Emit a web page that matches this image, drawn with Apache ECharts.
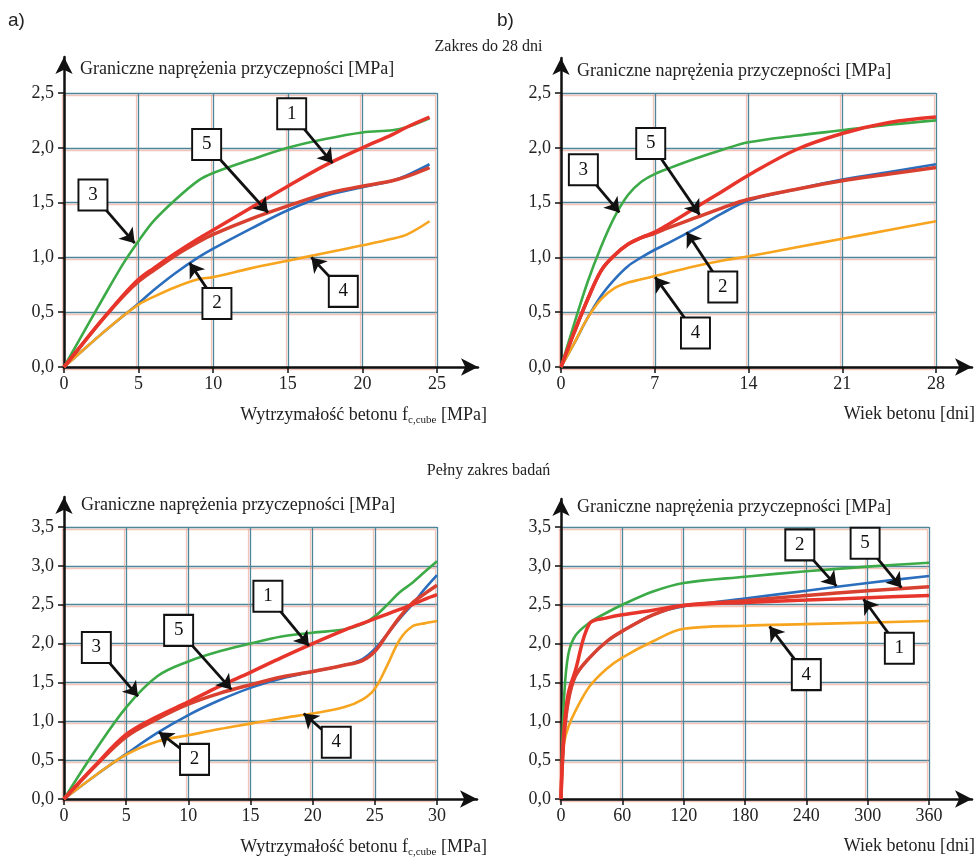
<!DOCTYPE html>
<html>
<head>
<meta charset="utf-8">
<script src="https://cdn.jsdelivr.net/npm/echarts@6/dist/echarts.min.js"></script>
<style>
  html, body { margin: 0; background: #fff; }
  #chart { width: 977px; height: 859px; }
</style>
</head>
<body>
<div id="chart"></div>
<script>
// a) zakres do 28 dni, oś x: wytrzymałość betonu f_c,cube [MPa]
const strength28X = [0, 1, 2.5, 4, 5, 6, 7.5, 9, 10, 12.5, 15, 17.5, 20, 22, 23, 24.5];
const strength28L1 = [0, 0.17, 0.42, 0.66, 0.8, 0.9, 1.04, 1.17, 1.25, 1.45, 1.65, 1.84, 2.0, 2.12, 2.19, 2.28];
const strength28L2 = [0, 0.12, 0.3, 0.47, 0.58, 0.7, 0.86, 1.0, 1.08, 1.26, 1.43, 1.56, 1.64, 1.7, 1.75, 1.85];
const strength28L3 = [0, 0.24, 0.6, 0.95, 1.15, 1.33, 1.53, 1.7, 1.77, 1.89, 2.0, 2.08, 2.14, 2.16, 2.19, 2.27];
const strength28L4 = [0, 0.12, 0.3, 0.47, 0.57, 0.64, 0.73, 0.8, 0.82, 0.9, 0.97, 1.04, 1.11, 1.17, 1.21, 1.33];
const strength28L5 = [0, 0.17, 0.42, 0.65, 0.78, 0.88, 1.02, 1.14, 1.21, 1.35, 1.47, 1.58, 1.65, 1.7, 1.74, 1.82];

// b) zakres do 28 dni, oś x: wiek betonu [dni]
const age28X = [0, 1, 2, 3, 4, 5, 6, 7, 8, 10, 12, 14, 17.5, 21, 24.5, 28];
const age28L1 = [0, 0.32, 0.62, 0.88, 1.02, 1.12, 1.18, 1.23, 1.3, 1.45, 1.6, 1.75, 1.98, 2.13, 2.23, 2.28];
const age28L2 = [0, 0.22, 0.45, 0.65, 0.8, 0.92, 1.0, 1.07, 1.13, 1.26, 1.4, 1.52, 1.62, 1.71, 1.78, 1.85];
const age28L3 = [0, 0.4, 0.78, 1.1, 1.37, 1.57, 1.69, 1.76, 1.81, 1.9, 1.98, 2.05, 2.11, 2.16, 2.21, 2.25];
const age28L4 = [0, 0.22, 0.45, 0.62, 0.72, 0.77, 0.8, 0.83, 0.86, 0.92, 0.97, 1.01, 1.09, 1.17, 1.25, 1.33];
const age28L5 = [0, 0.32, 0.62, 0.88, 1.02, 1.12, 1.18, 1.22, 1.27, 1.36, 1.45, 1.53, 1.62, 1.7, 1.76, 1.82];

// c) pełny zakres, oś x: wytrzymałość [MPa]
const strengthAllX = [0, 2.5, 5, 7.5, 10, 12.5, 15, 17.5, 20, 22.5, 24, 25, 26, 27, 28, 29, 30];
const strengthAllL1 = [0, 0.43, 0.83, 1.06, 1.25, 1.45, 1.63, 1.82, 2.0, 2.17, 2.26, 2.32, 2.38, 2.44, 2.5, 2.57, 2.63];
const strengthAllL2 = [0, 0.3, 0.58, 0.85, 1.08, 1.27, 1.43, 1.55, 1.64, 1.72, 1.8, 1.93, 2.12, 2.32, 2.5, 2.7, 2.88];
const strengthAllL3 = [0, 0.62, 1.18, 1.58, 1.77, 1.9, 2.0, 2.09, 2.14, 2.18, 2.25, 2.35, 2.5, 2.66, 2.78, 2.92, 3.06];
const strengthAllL4 = [0, 0.3, 0.57, 0.74, 0.82, 0.9, 0.97, 1.04, 1.1, 1.18, 1.28, 1.42, 1.72, 2.05, 2.22, 2.26, 2.29];
const strengthAllL5 = [0, 0.42, 0.8, 1.03, 1.22, 1.36, 1.47, 1.57, 1.64, 1.72, 1.78, 1.9, 2.12, 2.34, 2.52, 2.64, 2.75];

// d) pełny zakres, oś x: wiek betonu [dni]
const ageAllX = [0, 1, 3, 7, 14, 28, 45, 60, 90, 120, 180, 240, 300, 360];
const ageAllL1 = [0, 0.4, 0.9, 1.35, 1.65, 2.26, 2.33, 2.37, 2.43, 2.49, 2.53, 2.56, 2.59, 2.62];
const ageAllL2 = [0, 0.35, 0.8, 1.25, 1.58, 1.82, 2.03, 2.16, 2.37, 2.48, 2.58, 2.68, 2.78, 2.87];
const ageAllL3 = [0, 0.6, 1.3, 1.85, 2.1, 2.27, 2.4, 2.5, 2.67, 2.78, 2.86, 2.93, 2.99, 3.04];
const ageAllL4 = [0, 0.4, 0.72, 0.92, 1.13, 1.45, 1.68, 1.82, 2.03, 2.19, 2.23, 2.25, 2.27, 2.29];
const ageAllL5 = [0, 0.35, 0.8, 1.25, 1.58, 1.82, 2.03, 2.16, 2.37, 2.49, 2.55, 2.62, 2.68, 2.73];

// opisy krzywych: [numer, x ramki, y ramki, x grotu, y grotu]
const strength28Notes = [['1', 15.26, 2.31, 18.0, 1.86], ['5', 9.56, 2.03, 13.67, 1.41], ['3', 1.94, 1.57, 4.74, 1.13], ['2', 10.25, 0.58, 8.42, 0.95], ['4', 18.72, 0.69, 16.58, 1.0]];
const age28Notes = [['5', 6.7, 2.04, 10.34, 1.39], ['3', 1.67, 1.8, 4.36, 1.41], ['2', 12.08, 0.73, 9.39, 1.23], ['4', 10.04, 0.31, 7.03, 0.82]];
const strengthAllNotes = [['1', 16.4, 2.61, 19.7, 1.97], ['5', 9.22, 2.17, 13.46, 1.41], ['3', 2.6, 1.95, 5.95, 1.32], ['2', 10.5, 0.51, 7.64, 0.86], ['4', 21.9, 0.73, 19.28, 1.1]];
const ageAllNotes = [['2', 233.6, 3.27, 269.5, 2.74], ['5', 297.5, 3.29, 333, 2.72], ['1', 331, 1.94, 296, 2.57], ['4', 240, 1.6, 204, 2.22]];

const serif = "'Liberation Serif', 'Times New Roman', serif";
const lineColors = {1: '#e8352b', 2: '#2b6ebd', 3: '#3daa48', 4: '#f7a41f', 5: '#d8402f'};
const lineWidths = {1: 3.5, 2: 2.6, 3: 2.6, 4: 2.6, 5: 3.5};
const drawOrder = [3, 2, 4, 5, 1];

const panels = [
    {grid: {left: 64, top: 93, width: 373, height: 274}, arrow: {left: 64, top: 57, width: 414, height: 310},
        xMax: 25, xInt: 5, yMax: 2.5, x: strength28X,
        lines: {1: strength28L1, 2: strength28L2, 3: strength28L3, 4: strength28L4, 5: strength28L5}, notes: strength28Notes},
    {grid: {left: 561, top: 93, width: 375, height: 274}, arrow: {left: 561, top: 58, width: 411, height: 309},
        xMax: 28, xInt: 7, yMax: 2.5, x: age28X,
        lines: {1: age28L1, 2: age28L2, 3: age28L3, 4: age28L4, 5: age28L5}, notes: age28Notes},
    {grid: {left: 64, top: 527, width: 373, height: 272}, arrow: {left: 64, top: 497, width: 413, height: 302},
        xMax: 30, xInt: 5, yMax: 3.5, x: strengthAllX,
        lines: {1: strengthAllL1, 2: strengthAllL2, 3: strengthAllL3, 4: strengthAllL4, 5: strengthAllL5}, notes: strengthAllNotes},
    {grid: {left: 561, top: 527, width: 368, height: 272}, arrow: {left: 561, top: 499, width: 411, height: 300},
        xMax: 360, xInt: 60, yMax: 3.5, x: ageAllX,
        lines: {1: ageAllL1, 2: ageAllL2, 3: ageAllL3, 4: ageAllL4, 5: ageAllL5}, notes: ageAllNotes},
];

const gridLine = {
    color: '#4f8599', width: 1.3,
    shadowColor: 'rgba(236,150,130,0.55)', shadowOffsetX: -2, shadowOffsetY: 2, shadowBlur: 0
};
const tickLabel = {fontFamily: serif, fontSize: 18, color: '#222'};

const grids = [], xAxes = [], yAxes = [], series = [];

panels.forEach((p, i) => {
    grids.push(p.grid);
    xAxes.push({
        gridIndex: i, type: 'value', min: 0, max: p.xMax, interval: p.xInt,
        axisLine: {show: false},
        axisTick: {show: true, length: 6, lineStyle: {color: '#111', width: 1.5}},
        axisLabel: Object.assign({margin: 8}, tickLabel),
        splitLine: {show: true, lineStyle: gridLine}
    });
    yAxes.push({
        gridIndex: i, type: 'value', min: 0, max: p.yMax, interval: 0.5,
        axisLine: {show: false},
        axisTick: {show: true, length: 6, lineStyle: {color: '#111', width: 1.5}},
        axisLabel: Object.assign({margin: 10, formatter: v => v.toFixed(1).replace('.', ',')}, tickLabel),
        splitLine: {show: true, lineStyle: gridLine}
    });

    drawOrder.forEach(n => {
        series.push({
            type: 'line', name: 'Krzywa ' + n, xAxisIndex: i, yAxisIndex: i,
            data: p.x.map((v, k) => [v, p.lines[n][k]]),
            smooth: 0.35, showSymbol: false, silent: true,
            lineStyle: {color: lineColors[n], width: lineWidths[n]}, z: 2
        });
    });

    series.push({
        type: 'lines', coordinateSystem: 'cartesian2d', xAxisIndex: i, yAxisIndex: i,
        symbol: ['none', 'arrow'], symbolSize: 14, silent: true,
        lineStyle: {color: '#111', width: 2.8, opacity: 1, curveness: 0},
        data: p.notes.map(a => ({coords: [[a[1], a[2]], [a[3], a[4]]]})),
        z: 5
    });
    series.push({
        type: 'scatter', xAxisIndex: i, yAxisIndex: i, symbol: 'rect', symbolSize: [29, 31], silent: true,
        itemStyle: {color: '#fff', borderColor: '#111', borderWidth: 2, opacity: 1},
        label: {show: true, position: 'inside', formatter: q => q.name, fontFamily: serif, fontSize: 19, color: '#111'},
        data: p.notes.map(a => ({name: a[0], value: [a[1], a[2]]})),
        z: 6
    });
});

// osie ze strzałkami
panels.forEach((p, i) => {
    grids.push(p.arrow);
    const arrowAxis = {
        gridIndex: 4 + i, type: 'value', min: 0, max: 1,
        axisLine: {show: true, lineStyle: {color: '#111', width: 2.5}, symbol: ['none', 'arrow'], symbolSize: [13, 17]},
        axisTick: {show: false}, axisLabel: {show: false}, splitLine: {show: false}
    };
    xAxes.push(Object.assign({}, arrowAxis));
    yAxes.push(Object.assign({}, arrowAxis));
});

const txt = {fontFamily: serif, fontSize: 18, fontWeight: 'normal', color: '#222'};
const xNameRich = {
    rich: {
        n: {fontFamily: serif, fontSize: 18, color: '#222'},
        s: {fontFamily: serif, fontSize: 11, color: '#222', padding: [10, 0, 0, 0], verticalAlign: 'bottom'}
    }
};
const yName = 'Graniczne naprężenia przyczepności [MPa]';
const strengthName = '{n|Wytrzymałość betonu f}{s|c,cube}{n| [MPa]}';
const sans = "'Liberation Sans', Arial, sans-serif";

const titles = [
    {text: 'a)', left: 8, top: 11, textStyle: {fontFamily: sans, fontSize: 19, fontWeight: 'normal', color: '#222'}},
    {text: 'b)', left: 497, top: 11, textStyle: {fontFamily: sans, fontSize: 19, fontWeight: 'normal', color: '#222'}},
    {text: 'Zakres do 28 dni', left: 'center', top: 39, textStyle: Object.assign({}, txt, {fontSize: 16})},
    {text: 'Pełny zakres badań', left: 'center', top: 463, textStyle: Object.assign({}, txt, {fontSize: 16})},
    {text: yName, left: 80, top: 60, textStyle: txt},
    {text: yName, left: 577, top: 62, textStyle: txt},
    {text: yName, left: 81, top: 496, textStyle: txt},
    {text: yName, left: 577, top: 498, textStyle: txt},
    {text: strengthName, right: 490, top: 405, textStyle: Object.assign({}, txt, xNameRich)},
    {text: 'Wiek betonu [dni]', right: 2, top: 405, textStyle: txt},
    {text: strengthName, right: 490, top: 837, textStyle: Object.assign({}, txt, xNameRich)},
    {text: 'Wiek betonu [dni]', right: 2, top: 837, textStyle: txt},
].map(t => Object.assign({padding: 0}, t));

const chart = echarts.init(document.getElementById('chart'));
chart.setOption({
    backgroundColor: '#fff',
    animation: false,
    title: titles,
    grid: grids,
    xAxis: xAxes,
    yAxis: yAxes,
    series: series
});
</script>
</body>
</html>
